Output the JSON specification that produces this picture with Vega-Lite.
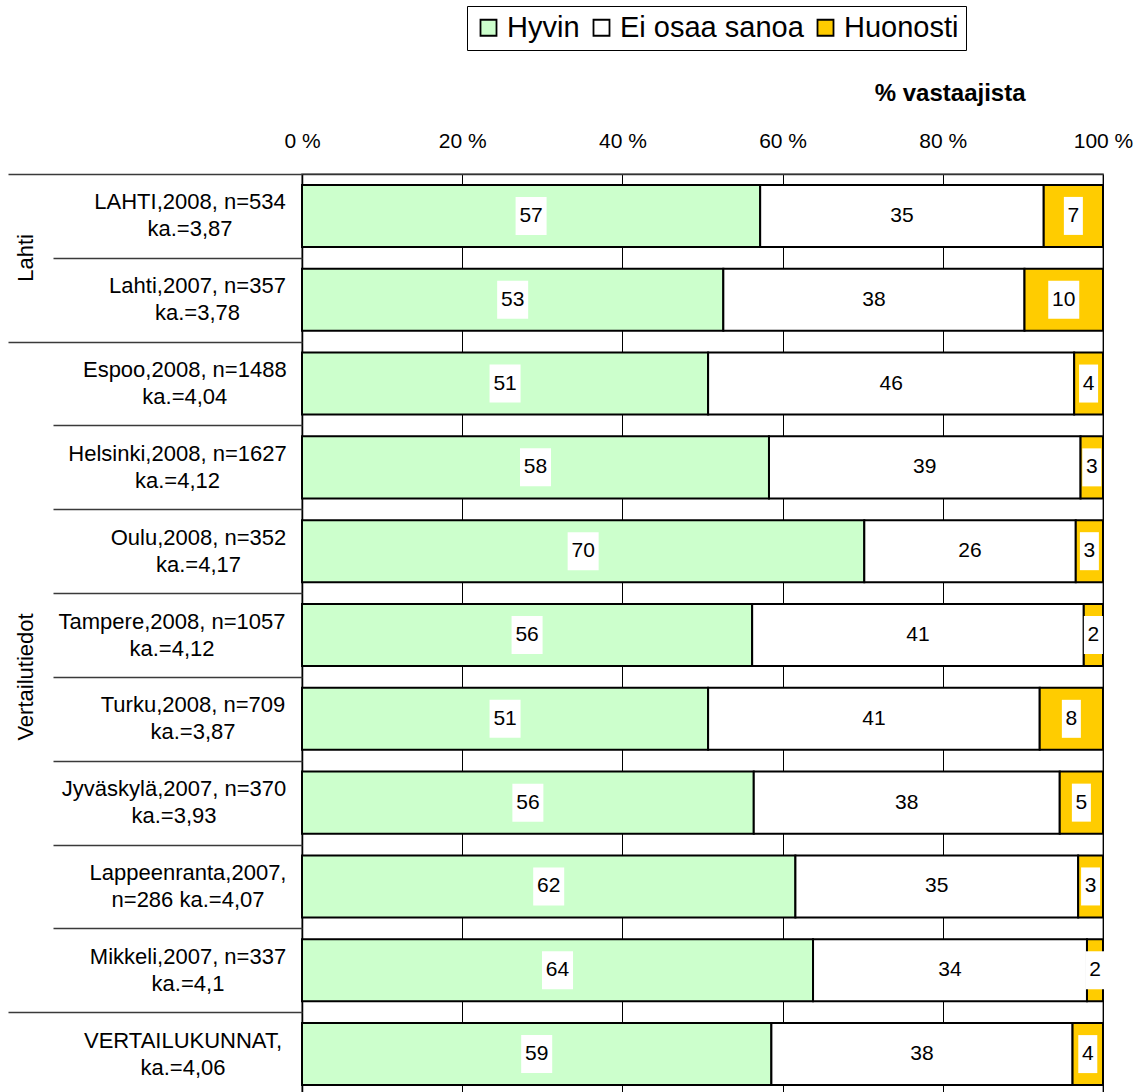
{
  "$schema": "https://vega.github.io/schema/vega-lite/v6.json",
  "autosize": {"type": "none"},
  "padding": {"left": 302, "top": 174, "right": 39, "bottom": 0},
  "width": 801,
  "height": 922,
  "background": "white",
  "config": {
    "font": "Liberation Sans",
    "view": {"stroke": "#777777", "strokeWidth": 1.5},
    "axis": {"labelColor": "black", "titleColor": "black"},
    "axisX": {
      "orient": "top",
      "labelExpr": "datum.value + ' %'", "labelFontSize": 21, "labelFlush": false, "labelOverlap": false,
      "labelPadding": 27, "labelBaseline": "alphabetic", "ticks": false,
      "domain": true, "domainColor": "#333333", "domainWidth": 1.5,
      "grid": true, "gridColor": "black", "gridWidth": 1,
      "titleFontSize": 24, "titleFontWeight": "bold",
      "titleAlign": "right", "titleX": 723, "titleY": -74, "titleBaseline": "alphabetic", "titleAngle": 0
    }
  },
  "data": {
    "values": [
      {"row": "LAHTI,2008, n=534|ka.=3,87", "cat": "Hyvin", "value": 57.2},
      {"row": "LAHTI,2008, n=534|ka.=3,87", "cat": "Ei osaa sanoa", "value": 35.4},
      {"row": "LAHTI,2008, n=534|ka.=3,87", "cat": "Huonosti", "value": 7.4},
      {"row": "Lahti,2007, n=357|ka.=3,78", "cat": "Hyvin", "value": 52.6},
      {"row": "Lahti,2007, n=357|ka.=3,78", "cat": "Ei osaa sanoa", "value": 37.6},
      {"row": "Lahti,2007, n=357|ka.=3,78", "cat": "Huonosti", "value": 9.8},
      {"row": "Espoo,2008, n=1488|ka.=4,04", "cat": "Hyvin", "value": 50.7},
      {"row": "Espoo,2008, n=1488|ka.=4,04", "cat": "Ei osaa sanoa", "value": 45.7},
      {"row": "Espoo,2008, n=1488|ka.=4,04", "cat": "Huonosti", "value": 3.6},
      {"row": "Helsinki,2008, n=1627|ka.=4,12", "cat": "Hyvin", "value": 58.3},
      {"row": "Helsinki,2008, n=1627|ka.=4,12", "cat": "Ei osaa sanoa", "value": 38.9},
      {"row": "Helsinki,2008, n=1627|ka.=4,12", "cat": "Huonosti", "value": 2.8},
      {"row": "Oulu,2008, n=352|ka.=4,17", "cat": "Hyvin", "value": 70.2},
      {"row": "Oulu,2008, n=352|ka.=4,17", "cat": "Ei osaa sanoa", "value": 26.4},
      {"row": "Oulu,2008, n=352|ka.=4,17", "cat": "Huonosti", "value": 3.4},
      {"row": "Tampere,2008, n=1057|ka.=4,12", "cat": "Hyvin", "value": 56.2},
      {"row": "Tampere,2008, n=1057|ka.=4,12", "cat": "Ei osaa sanoa", "value": 41.4},
      {"row": "Tampere,2008, n=1057|ka.=4,12", "cat": "Huonosti", "value": 2.4},
      {"row": "Turku,2008, n=709|ka.=3,87", "cat": "Hyvin", "value": 50.7},
      {"row": "Turku,2008, n=709|ka.=3,87", "cat": "Ei osaa sanoa", "value": 41.4},
      {"row": "Turku,2008, n=709|ka.=3,87", "cat": "Huonosti", "value": 7.9},
      {"row": "Jyväskylä,2007, n=370|ka.=3,93", "cat": "Hyvin", "value": 56.4},
      {"row": "Jyväskylä,2007, n=370|ka.=3,93", "cat": "Ei osaa sanoa", "value": 38.2},
      {"row": "Jyväskylä,2007, n=370|ka.=3,93", "cat": "Huonosti", "value": 5.4},
      {"row": "Lappeenranta,2007,|n=286 ka.=4,07", "cat": "Hyvin", "value": 61.6},
      {"row": "Lappeenranta,2007,|n=286 ka.=4,07", "cat": "Ei osaa sanoa", "value": 35.3},
      {"row": "Lappeenranta,2007,|n=286 ka.=4,07", "cat": "Huonosti", "value": 3.1},
      {"row": "Mikkeli,2007, n=337|ka.=4,1", "cat": "Hyvin", "value": 63.8},
      {"row": "Mikkeli,2007, n=337|ka.=4,1", "cat": "Ei osaa sanoa", "value": 34.2},
      {"row": "Mikkeli,2007, n=337|ka.=4,1", "cat": "Huonosti", "value": 2.0},
      {"row": "VERTAILUKUNNAT,|ka.=4,06", "cat": "Hyvin", "value": 58.6},
      {"row": "VERTAILUKUNNAT,|ka.=4,06", "cat": "Ei osaa sanoa", "value": 37.6},
      {"row": "VERTAILUKUNNAT,|ka.=4,06", "cat": "Huonosti", "value": 3.8}
    ]
  },
  "transform": [
    {"calculate": "indexof(['Hyvin','Ei osaa sanoa','Huonosti'], datum.cat)", "as": "k"},
    {"stack": "value", "groupby": ["row"], "sort": [{"field": "k", "order": "ascending"}], "as": ["x0", "x1"]},
    {"calculate": "(datum.x0 + datum.x1) / 2", "as": "xm"}
  ],
  "layer": [
    {
      "mark": {"type": "bar", "stroke": "black", "strokeWidth": 2, "height": {"band": 0.74}},
      "encoding": {
        "y": {
          "field": "row", "type": "nominal", "sort": null,
          "scale": {"paddingInner": 0, "paddingOuter": 0},
          "axis": {
            "title": null, "orient": "left", "domain": true, "domainColor": "black", "domainWidth": 1.5,
            "grid": false, "ticks": false,
            "labelPadding": {"condition": [
              {"test": "indexof(datum.value,'LAHTI')==0", "value": 112.5},
              {"test": "indexof(datum.value,'Lahti,')==0", "value": 105},
              {"test": "indexof(datum.value,'Espoo')==0", "value": 117.7},
              {"test": "indexof(datum.value,'Helsinki')==0", "value": 125},
              {"test": "indexof(datum.value,'Oulu')==0", "value": 104},
              {"test": "indexof(datum.value,'Tampere')==0", "value": 130.5},
              {"test": "indexof(datum.value,'Turku')==0", "value": 109.5},
              {"test": "indexof(datum.value,'Jyv')==0", "value": 128.5},
              {"test": "indexof(datum.value,'Lappeen')==0", "value": 114.5},
              {"test": "indexof(datum.value,'Mikkeli')==0", "value": 114.5},
              {"test": "indexof(datum.value,'VERTAILU')==0", "value": 119.5}
            ], "value": 115},
            "labelExpr": "split(datum.value, '|')",
            "labelFontSize": 22, "labelLineHeight": 27, "labelAlign": "center", "labelBaseline": "middle",
            "labelOffset": -13.5, "labelLimit": 0, "labelOverlap": false
          }
        },
        "x": {
          "field": "x0", "type": "quantitative",
          "scale": {"domain": [0, 100], "nice": false},
          "axis": {"title": "% vastaajista", "values": [0, 20, 40, 60, 80, 100]}
        },
        "x2": {"field": "x1"},
        "color": {
          "field": "cat", "type": "nominal",
          "scale": {"domain": ["Hyvin", "Ei osaa sanoa", "Huonosti"], "range": ["#CCFFCC", "#FFFFFF", "#FFCC00"]},
          "legend": {
            "title": null, "orient": "none", "legendX": 165, "legendY": -168, "direction": "horizontal",
            "strokeColor": "black", "fillColor": "white", "padding": 7,
            "symbolType": "square", "symbolSize": 256, "symbolStrokeColor": "black", "symbolStrokeWidth": 1.8,
            "symbolOpacity": 1, "labelFontSize": 29, "labelOffset": 4, "columnPadding": 7, "labelLimit": 0,
            "labelColor": "black"
          }
        }
      }
    },
    {
      "mark": {"type": "point", "filled": true, "fill": "white", "strokeWidth": 0, "opacity": 1},
      "encoding": {
        "y": {"field": "row", "type": "nominal", "sort": null, "axis": null},
        "x": {"field": "xm", "type": "quantitative", "axis": {"title": "% vastaajista", "values": [0, 20, 40, 60, 80, 100]}},
        "size": {"value": 1444},
        "shape": {"condition": {"test": "datum.value >= 9.5", "value": "M-0.816,-1H0.816V1H-0.816Z"}, "value": "M-0.5,-1H0.5V1H-0.5Z"}
      }
    },
    {
      "mark": {"type": "text", "fontSize": 21, "color": "black", "align": "center", "baseline": "middle"},
      "encoding": {
        "y": {"field": "row", "type": "nominal", "sort": null, "axis": null},
        "x": {"field": "xm", "type": "quantitative", "axis": {"title": "% vastaajista", "values": [0, 20, 40, 60, 80, 100]}},
        "text": {"field": "value", "type": "quantitative", "format": ".0f"}
      }
    },
    {
      "mark": {"type": "point", "opacity": 0},
      "encoding": {
        "y": {
          "field": "row", "type": "nominal", "sort": null,
          "axis": {
            "title": null, "orient": "left", "domain": false, "labels": false, "grid": false,
            "ticks": true, "tickBand": "extent", "tickExtra": true, "tickColor": "#3a3a3a", "tickWidth": 1.5,
            "tickSize": {"condition": {"test": "datum.extra || indexof(datum.value,'Lahti,')==0 || indexof(datum.value,'Mikkeli')==0", "value": 294}, "value": 249}
          }
        },
        "x": {"field": "xm", "type": "quantitative", "axis": {"title": "% vastaajista", "values": [0, 20, 40, 60, 80, 100]}}
      }
    },
    {
      "mark": {"type": "point", "opacity": 0},
      "encoding": {
        "y": {
          "field": "row", "type": "nominal", "sort": null,
          "axis": {
            "title": null, "orient": "left", "domain": false, "ticks": false, "grid": false,
            "values": ["LAHTI,2008, n=534|ka.=3,87", "Tampere,2008, n=1057|ka.=4,12"],
            "labelExpr": "indexof(datum.value,'LAHTI')==0 ? 'Lahti' : 'Vertailutiedot'",
            "labelAngle": 270, "labelAlign": "center", "labelBaseline": "middle",
            "labelOffset": 42, "labelPadding": 277, "labelFontSize": 22, "labelLimit": 0, "labelOverlap": false
          }
        },
        "x": {"field": "xm", "type": "quantitative", "axis": {"title": "% vastaajista", "values": [0, 20, 40, 60, 80, 100]}}
      }
    }
  ],
  "resolve": {"axis": {"y": "independent"}}
}
